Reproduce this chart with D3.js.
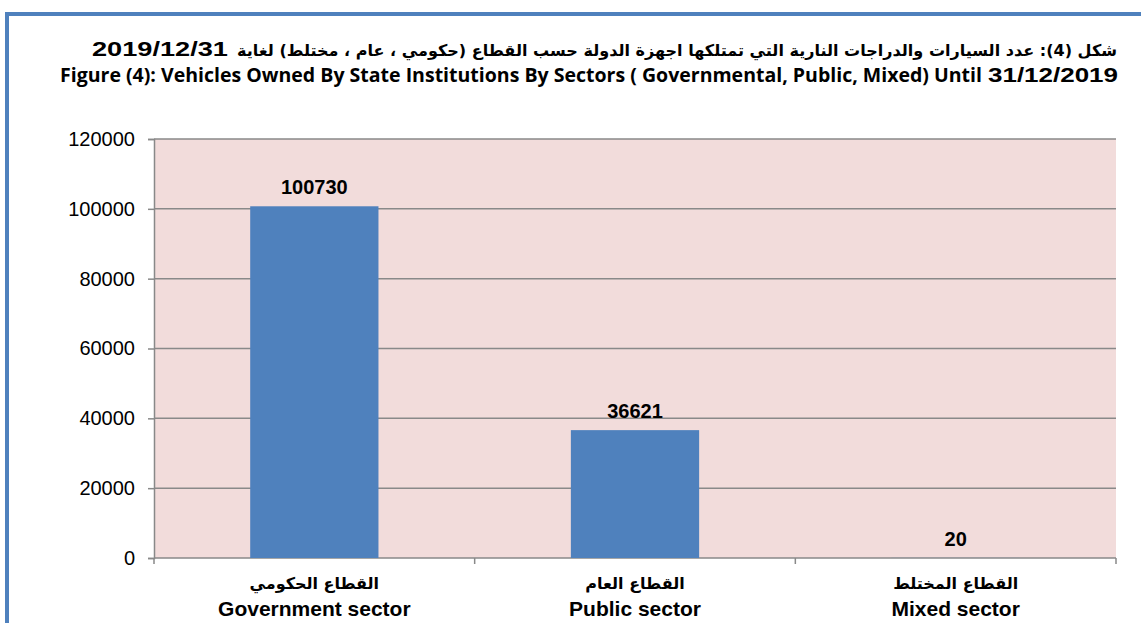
<!DOCTYPE html>
<html>
<head>
<meta charset="utf-8">
<script src="https://cdn.jsdelivr.net/npm/d3@7"></script>
<style>
  body { margin: 0; background: #fff; }
  text { font-family: "Liberation Sans", Arial, "DejaVu Sans", sans-serif; }
  .ar { font-family: "DejaVu Sans", "Liberation Sans", sans-serif; }
</style>
</head>
<body>
<svg id="chart" width="1141" height="623"></svg>
<script>
// data
var categoriesAr = ["القطاع الحكومي", "القطاع العام", "القطاع المختلط"];
var categoriesEn = ["Government sector", "Public sector", "Mixed sector"];
var vehicles = [100730, 36621, 20];
var yTicks = [0, 20000, 40000, 60000, 80000, 100000, 120000];

var titleAr = "شكل (4): عدد السيارات والدراجات النارية التي تمتلكها اجهزة الدولة حسب القطاع (حكومي ، عام ، مختلط) لغاية";
var titleArDate = "2019/12/31";
var titleEn = "Figure (4): Vehicles Owned By State Institutions By Sectors ( Governmental, Public, Mixed) Until";
var titleEnDate = "31/12/2019";

var width = 1141;
var height = 623;
var plot = {left: 154, right: 1116, top: 139, bottom: 558};

var svg = d3.select("#chart");

// outer blue frame (runs off the right / bottom edge like the source)
svg.append("rect")
  .attr("x", 7).attr("y", 14)
  .attr("width", width).attr("height", height)
  .attr("fill", "none")
  .attr("stroke", "#4f81bd")
  .attr("stroke-width", 4);

// titles
svg.append("text")
  .attr("class", "ar")
  .attr("x", 677).attr("y", 56)
  .attr("direction", "rtl")
  .attr("text-anchor", "middle")
  .attr("textLength", 880).attr("lengthAdjust", "spacingAndGlyphs")
  .style("font-size", "16px").style("font-weight", "bold")
  .text(titleAr);
svg.append("text")
  .attr("x", 92).attr("y", 56)
  .attr("textLength", 136).attr("lengthAdjust", "spacingAndGlyphs")
  .style("font-size", "20px").style("font-weight", "bold")
  .text(titleArDate);
svg.append("text")
  .attr("x", 60).attr("y", 82)
  .attr("textLength", 922).attr("lengthAdjust", "spacingAndGlyphs")
  .style("font-family", "'Open Sans', sans-serif")
  .style("font-size", "19px").style("font-weight", "bold")
  .text(titleEn);
svg.append("text")
  .attr("x", 988).attr("y", 82)
  .attr("textLength", 130).attr("lengthAdjust", "spacingAndGlyphs")
  .style("font-size", "21px").style("font-weight", "bold")
  .text(titleEnDate);

// scales
var x = d3.scaleBand()
  .domain(categoriesEn)
  .range([plot.left, plot.right])
  .paddingInner(0.6)
  .paddingOuter(0.3);

var y = d3.scaleLinear()
  .domain([0, 120000])
  .range([plot.bottom, plot.top]);

// plot background
svg.append("rect")
  .attr("x", plot.left).attr("y", plot.top)
  .attr("width", plot.right - plot.left)
  .attr("height", plot.bottom - plot.top)
  .attr("fill", "#f2dcdb");

// gridlines
svg.append("g")
  .selectAll("line")
  .data(yTicks)
  .join("line")
  .attr("x1", plot.left).attr("x2", plot.right)
  .attr("y1", function(d) { return y(d); })
  .attr("y2", function(d) { return y(d); })
  .attr("stroke", "#898989")
  .attr("stroke-width", 1.5);

// bars
svg.append("g")
  .selectAll("rect")
  .data(vehicles)
  .join("rect")
  .attr("x", function(d, i) { return x(categoriesEn[i]); })
  .attr("y", function(d) { return y(d); })
  .attr("width", x.bandwidth())
  .attr("height", function(d) { return y(0) - y(d); })
  .attr("fill", "#4f81bd");

// y axis
var yAxis = svg.append("g")
  .attr("transform", "translate(" + plot.left + ",0)")
  .call(d3.axisLeft(y).tickValues(yTicks).tickSize(6).tickPadding(13).tickFormat(d3.format("d")));
yAxis.select(".domain").attr("stroke", "#898989").attr("stroke-width", 1.5);
yAxis.selectAll(".tick line").attr("stroke", "#898989").attr("stroke-width", 1.5);
yAxis.selectAll(".tick text")
  .attr("fill", "#000")
  .style("font-family", "'Liberation Sans', Arial, sans-serif")
  .style("font-size", "20px");

// x axis: ticks sit between categories
var step = x.step();
var xBounds = d3.range(categoriesEn.length + 1).map(function(i) { return plot.left + i * step; });
svg.append("g")
  .selectAll("line")
  .data(xBounds)
  .join("line")
  .attr("x1", function(d) { return d; })
  .attr("x2", function(d) { return d; })
  .attr("y1", plot.bottom)
  .attr("y2", plot.bottom + 6)
  .attr("stroke", "#898989")
  .attr("stroke-width", 1.5);

// value labels
svg.append("g")
  .selectAll("text")
  .data(vehicles)
  .join("text")
  .attr("x", function(d, i) { return x(categoriesEn[i]) + x.bandwidth() / 2; })
  .attr("y", function(d) { return y(d) - 12; })
  .attr("text-anchor", "middle")
  .style("font-size", "20px").style("font-weight", "bold")
  .text(function(d) { return d; });

// category labels (arabic + english)
svg.append("g")
  .selectAll("text")
  .data(categoriesAr)
  .join("text")
  .attr("class", "ar")
  .attr("direction", "rtl")
  .attr("x", function(d, i) { return x(categoriesEn[i]) + x.bandwidth() / 2; })
  .attr("y", 589)
  .attr("text-anchor", "middle")
  .style("font-size", "16px").style("font-weight", "bold")
  .text(function(d) { return d; });

svg.append("g")
  .selectAll("text")
  .data(categoriesEn)
  .join("text")
  .attr("x", function(d) { return x(d) + x.bandwidth() / 2; })
  .attr("y", 616)
  .attr("text-anchor", "middle")
  .style("font-size", "21px").style("font-weight", "bold")
  .text(function(d) { return d; });
</script>
</body>
</html>
